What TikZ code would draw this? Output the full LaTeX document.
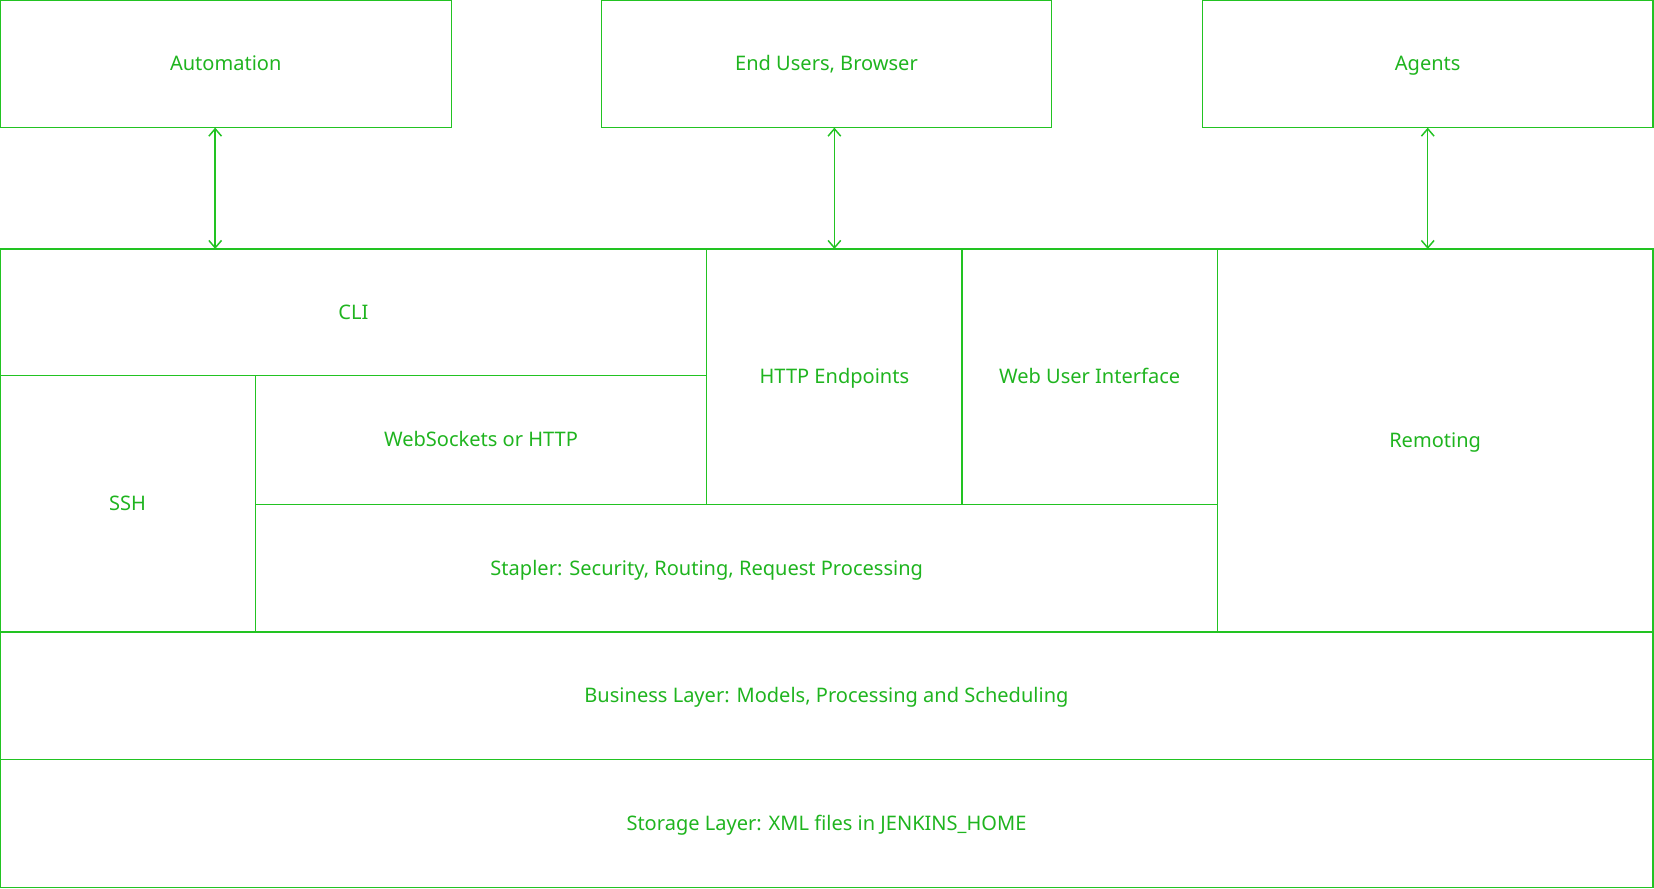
\documentclass[tikz,border=0pt]{standalone}
\usepackage{fontspec}
\setmainfont{Noto Sans}
\usetikzlibrary{arrows.meta}
\definecolor{Line}{HTML}{22C322}
\definecolor{Label}{HTML}{1FB41F}

\begin{document}
\begin{tikzpicture}[x=0.5pt, y=-0.5pt,
  box/.style={draw=Line, line width=0.6pt, text=Label, font=\fontsize{9.5}{11}\selectfont, text height=1.5ex, text depth=.25ex, inner sep=0pt, outer sep=0pt},
  arr/.style={{Straight Barb[length=3.5pt,width=6pt]}-{Straight Barb[length=3.5pt,width=6pt]}, draw=Line, line width=0.7pt} ]

\useasboundingbox (0,0) rectangle (1568,842);

% clients
\node[box, minimum width=214pt, minimum height=60.5pt] (auto) at (214,60.5) {Automation};
\node[box, minimum width=213.5pt, minimum height=60.5pt] (users) at (783.5,60.5) {End Users, Browser};
\node[box, minimum width=213.5pt, minimum height=60.5pt] (agents) at (1353.5,60.5) {Agents};

% access layer
\node[box, minimum width=335pt, minimum height=60pt] (cli) at (335,296) {CLI};
\node[box, minimum width=121pt, minimum height=121.5pt] (ssh) at (121,477.5) {SSH};
\node[box, minimum width=214pt, minimum height=61pt] (ws) at (456,417) {WebSockets or HTTP};
\node[box, minimum width=121pt, minimum height=121pt] (http) at (791,357) {HTTP Endpoints};
\node[box, minimum width=121pt, minimum height=121pt] (webui) at (1033,357) {Web User Interface};
\node[box, minimum width=206.5pt, minimum height=181.5pt] (remoting) at (1360.5,417.5) {Remoting};
\node[box, minimum width=456pt, minimum height=60.5pt] (stapler) at (698,538.5) {\hspace*{-28pt}Stapler: Security, Routing, Request Processing};

% core
\node[box, minimum width=783.5pt, minimum height=60.5pt] (business) at (783.5,659.5) {Business Layer: Models, Processing and Scheduling};
\node[box, minimum width=783.5pt, minimum height=60.5pt] (storage) at (783.5,780.5) {Storage Layer: XML files in JENKINS\_HOME};

\draw[arr] (auto.south -| 204,0) -- (cli.north -| 204,0);
\draw[arr] (users.south -| http.north) -- (http.north);
\draw[arr] (agents.south) -- (agents.south |- remoting.north);

\end{tikzpicture}
\end{document}
